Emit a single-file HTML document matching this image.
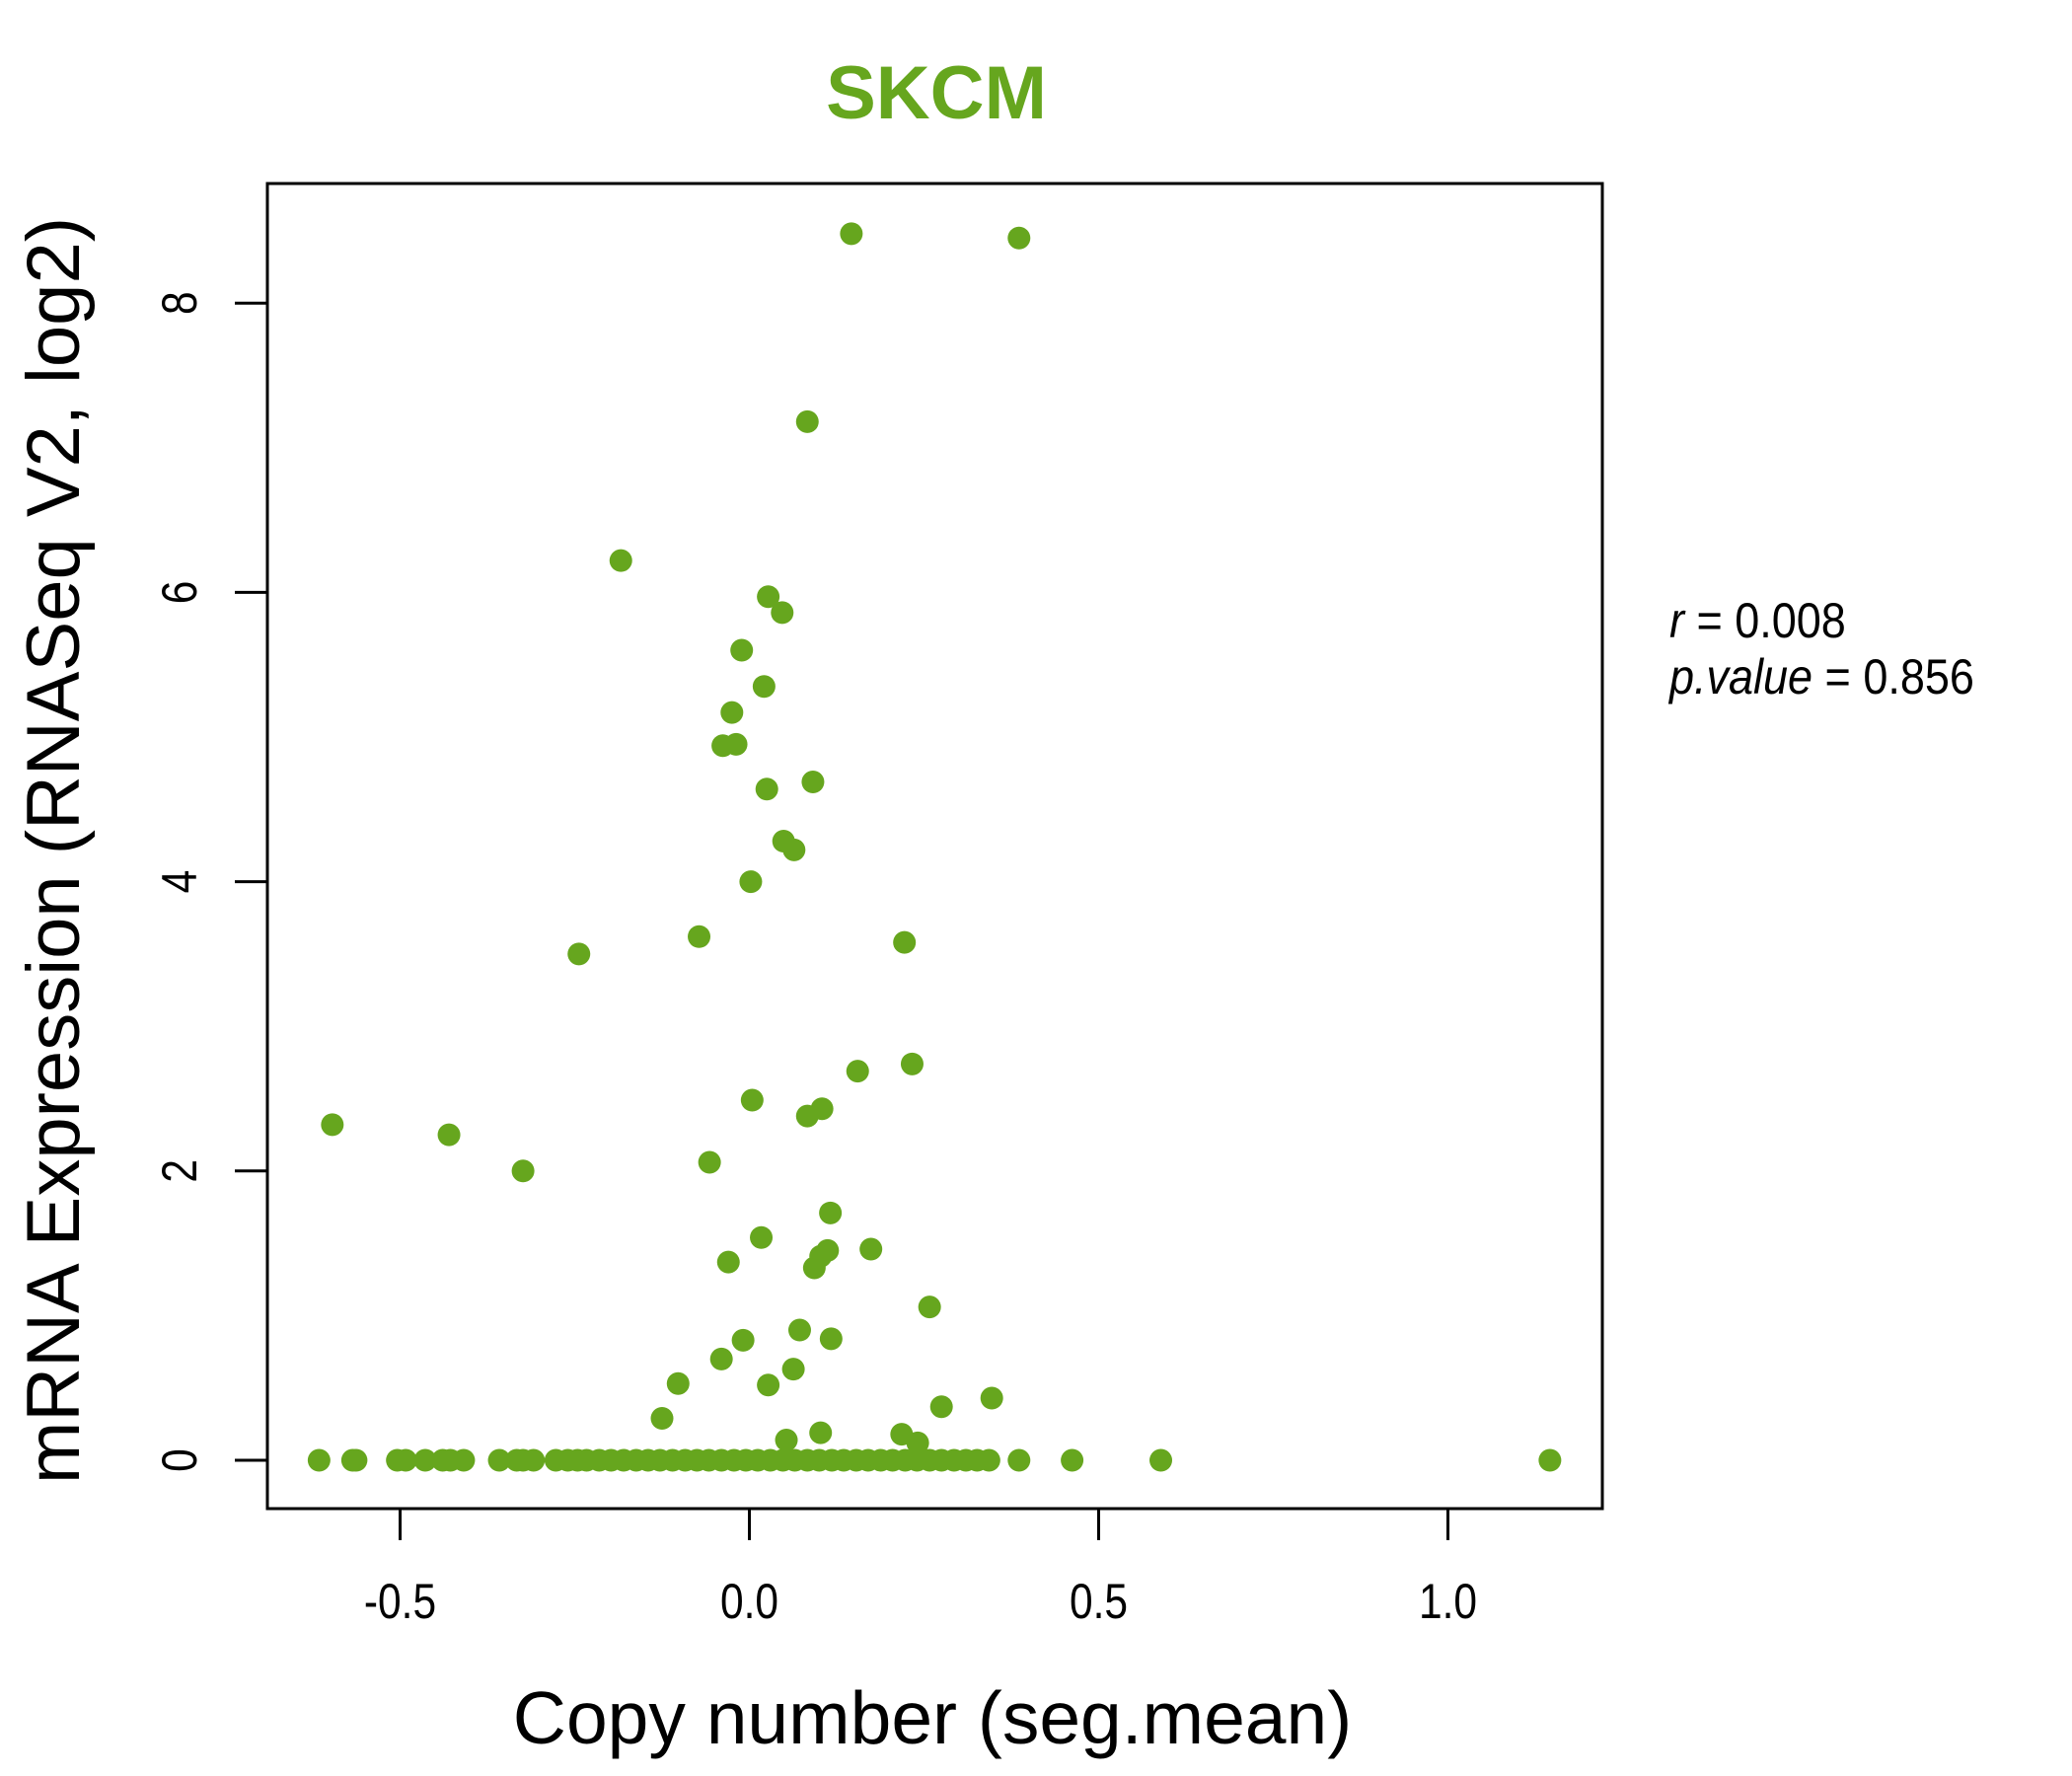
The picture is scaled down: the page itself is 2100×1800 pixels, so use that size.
<!DOCTYPE html>
<html><head><meta charset="utf-8"><style>
html,body{margin:0;padding:0;background:#fff;}
svg{display:block;font-family:"Liberation Sans",sans-serif;}
</style></head><body>
<svg id="chart" width="2100" height="1800" viewBox="0 0 2100 1800" xmlns="http://www.w3.org/2000/svg">
<text x="949" y="120" text-anchor="middle" font-size="76" font-weight="bold" fill="#66a61e">SKCM</text>
<rect x="271" y="186" width="1353" height="1343" fill="none" stroke="#000" stroke-width="3"/>
<g id="xaxis"></g>
<g id="yaxis"></g>
<g id="points"></g>
<text x="945" y="1767" text-anchor="middle" font-size="75">Copy number (seg.mean)</text>
<text transform="translate(80,862) rotate(-90)" text-anchor="middle" font-size="76">mRNA Expression (RNASeq V2, log2)</text>
<g transform="translate(1692,646) scale(0.9,1)"><text x="0" y="0" font-size="50"><tspan font-style="italic">r</tspan> = 0.008</text></g>
<g transform="translate(1692,703) scale(0.9,1)"><text x="0" y="0" font-size="50"><tspan font-style="italic">p.value</tspan> = 0.856</text></g>
</svg>
<script>
const xTicks=[-0.5,0,0.5,1.0];
const xTickLabels=["-0.5","0.0","0.5","1.0"];
const yTicks=[0,2,4,6,8];
const yTickLabels=["0","2","4","6","8"];
const ptX=[0.146,0.386,0.083,-0.184,0.027,0.047,-0.011,0.021,-0.025,-0.019,-0.038,0.025,0.091,0.049,0.064,0.002,-0.244,-0.072,0.222,0.233,0.155,0.004,0.083,0.104,-0.597,-0.430,-0.324,-0.057,0.116,0.017,0.174,0.112,0.102,0.093,-0.030,0.258,0.072,-0.009,0.117,-0.040,0.063,-0.102,0.027,0.347,0.275,-0.125,0.053,0.102,0.218,0.241];
const ptY=[8.48,8.45,7.18,6.22,5.97,5.86,5.60,5.35,5.17,4.95,4.94,4.64,4.69,4.28,4.22,4.00,3.50,3.62,3.58,2.74,2.69,2.49,2.38,2.43,2.32,2.25,2.00,2.06,1.71,1.54,1.46,1.45,1.41,1.33,1.37,1.06,0.90,0.83,0.84,0.70,0.63,0.53,0.52,0.43,0.37,0.29,0.14,0.19,0.18,0.12];
const zeroX=[-0.616,-0.568,-0.563,-0.504,-0.492,-0.464,-0.439,-0.428,-0.409,-0.358,-0.333,-0.324,-0.309,-0.277,-0.260,-0.246,-0.233,-0.215,-0.198,-0.180,-0.162,-0.145,-0.128,-0.110,-0.092,-0.075,-0.058,-0.040,-0.022,-0.005,0.012,0.030,0.048,0.065,0.083,0.100,0.118,0.135,0.153,0.170,0.188,0.205,0.223,0.240,0.258,0.275,0.293,0.310,0.326,0.343,0.386,0.462,0.589,1.146];
const NS="http://www.w3.org/2000/svg";
const xs=v=>759.5+v*708;
const ys=v=>1480-v*146.6;
const col="#66a61e";
function mk(tag,attrs,parent){const e=document.createElementNS(NS,tag);for(const k in attrs)e.setAttribute(k,attrs[k]);parent.appendChild(e);return e;}
const gx=document.getElementById('xaxis'),gy=document.getElementById('yaxis'),gp=document.getElementById('points');
xTicks.forEach((t,i)=>{
 const l=mk('line',{x1:xs(t),x2:xs(t),y1:1529,y2:1561,stroke:'#000','stroke-width':3},gx);
 
 
 const tx=mk('text',{transform:`translate(${xs(t)},1640) scale(0.85,1)`,'text-anchor':'middle','font-size':50},gx);
 tx.textContent=xTickLabels[i];
 
 
});
yTicks.forEach((t,i)=>{
 const l=mk('line',{x1:238,x2:271,y1:ys(t),y2:ys(t),stroke:'#000','stroke-width':3},gy);
 
 
 const tx=mk('text',{transform:`translate(199,${ys(t)}) rotate(-90) scale(0.85,1)`,'text-anchor':'middle','font-size':50},gy);
 tx.textContent=yTickLabels[i];
 
 
});
function dot(x,y){
 const c=mk('circle',{cx:xs(x),cy:ys(y),r:11.5,fill:col},gp);
 
 
}
zeroX.forEach(x=>dot(x,0));
ptX.forEach((x,i)=>dot(x,ptY[i]));
</script>
</body></html>
